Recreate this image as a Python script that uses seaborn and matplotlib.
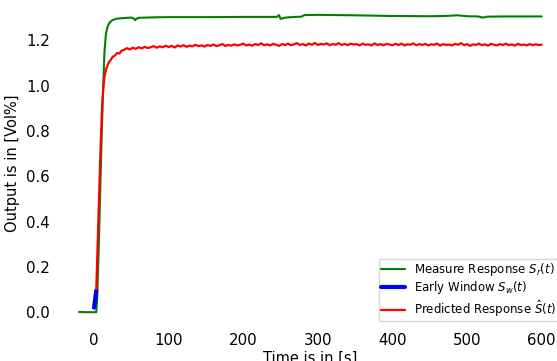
import numpy as np
import pandas as pd
import matplotlib
matplotlib.use("Agg")
import matplotlib.pyplot as plt
import seaborn as sns

# measured response S_r(t)
meas_t = [-20, -10, -2, 2, 3, 4, 6, 8, 10, 12, 14, 16, 18, 21, 25, 30, 40, 50, 53, 55,
          57, 60, 80, 100, 150, 200, 245, 248, 250, 252, 255, 260, 270, 278, 282, 300,
          350, 400, 450, 470, 487, 500, 515, 521, 527, 550, 600]
meas_y = [0.001, 0.0, 0.0, 0.0, 0.0, 0.05, 0.25, 0.50, 0.75, 0.97, 1.15, 1.23, 1.26, 1.28,
          1.29, 1.296, 1.299, 1.301, 1.297, 1.290, 1.296, 1.300, 1.302, 1.303, 1.303,
          1.304, 1.304, 1.312, 1.295, 1.297, 1.300, 1.302, 1.304, 1.305, 1.312, 1.313,
          1.311, 1.308, 1.307, 1.308, 1.311, 1.307, 1.306, 1.301, 1.305, 1.306, 1.306]

# early window S_w(t)
early_t = [0, 1, 2, 3]
early_y = [0.02, 0.045, 0.07, 0.097]

# predicted response, rising part
pred_rise_t = [3, 5, 7, 9, 11, 12.5, 14, 16, 18, 20, 22, 25, 28, 31, 34, 37]
pred_rise_y = [0.10, 0.32, 0.55, 0.75, 0.92, 0.99, 1.04, 1.07, 1.09, 1.105, 1.112,
               1.128, 1.133, 1.145, 1.142, 1.155]
# predicted response, plateau sampled every 4 s from 40 to 600
pred_flat_y = [
    1.158, 1.166, 1.160, 1.168, 1.163, 1.170, 1.165, 1.172, 1.166, 1.170,
    1.175, 1.168, 1.174, 1.170, 1.177, 1.171, 1.176, 1.169, 1.178, 1.173,
    1.179, 1.172, 1.177, 1.174, 1.181, 1.175, 1.178, 1.173, 1.180, 1.176,
    1.182, 1.175, 1.179, 1.184, 1.176, 1.180, 1.177, 1.183, 1.178, 1.181,
    1.186, 1.178, 1.182, 1.177, 1.184, 1.180, 1.187, 1.179, 1.183, 1.178,
    1.185, 1.181, 1.176, 1.184, 1.180, 1.186, 1.179, 1.183, 1.188, 1.180,
    1.184, 1.178, 1.186, 1.181, 1.189, 1.180, 1.185, 1.182, 1.187, 1.179,
    1.184, 1.181, 1.188, 1.180, 1.185, 1.179, 1.186, 1.182, 1.184, 1.178,
    1.186, 1.181, 1.183, 1.178, 1.187, 1.180, 1.184, 1.179, 1.185, 1.182,
    1.179, 1.185, 1.180, 1.186, 1.178, 1.183, 1.181, 1.187, 1.179, 1.184,
    1.180, 1.185, 1.178, 1.183, 1.181, 1.186, 1.177, 1.184, 1.180, 1.182,
    1.178, 1.185, 1.181, 1.188, 1.179, 1.184, 1.176, 1.183, 1.180, 1.186,
    1.179, 1.183, 1.177, 1.185, 1.181, 1.178, 1.184, 1.180, 1.186, 1.179,
    1.183, 1.177, 1.185, 1.180, 1.182, 1.178, 1.184, 1.179, 1.183, 1.180,
    1.181]
pred_flat_t = list(range(40, 601, 4))

pred_t = pred_rise_t + pred_flat_t
pred_y = pred_rise_y + pred_flat_y

sns.set_style("white")
plt.rcParams.update({"text.color": "black", "axes.labelcolor": "black",
                     "xtick.color": "black", "ytick.color": "black"})

fig = plt.figure(figsize=(5.57, 3.61), dpi=100)
ax = fig.add_axes([0.1005, 0.094, 0.9135, 0.906])

sns.lineplot(x=meas_t, y=meas_y, color="green", lw=1.5, label="Measure Response $S_r(t)$", ax=ax)
sns.lineplot(x=early_t, y=early_y, color="blue", lw=3, label="Early Window $S_w(t)$", ax=ax)
sns.lineplot(x=pred_t, y=pred_y, color="red", lw=1.6, label="Predicted Response $\\hat{S}(t)$", ax=ax)

sns.despine(left=True, bottom=True)
ax.tick_params(axis="both", length=1.5, width=0.8, color="0.4", labelsize=10.8, pad=3)
ax.set_xticks([0, 100, 200, 300, 400, 500, 600])
ax.set_yticks([0.0, 0.2, 0.4, 0.6, 0.8, 1.0, 1.2])
ax.set_xlabel("Time is in [s]", fontsize=10.5, labelpad=2)
ax.set_ylabel("Output is in [Vol%]", fontsize=10.5)
ax.legend(loc="lower right", fontsize=8.5, labelspacing=0.12, borderpad=0.2,
          handletextpad=0.8)

fig.savefig("out.png", dpi=100)
